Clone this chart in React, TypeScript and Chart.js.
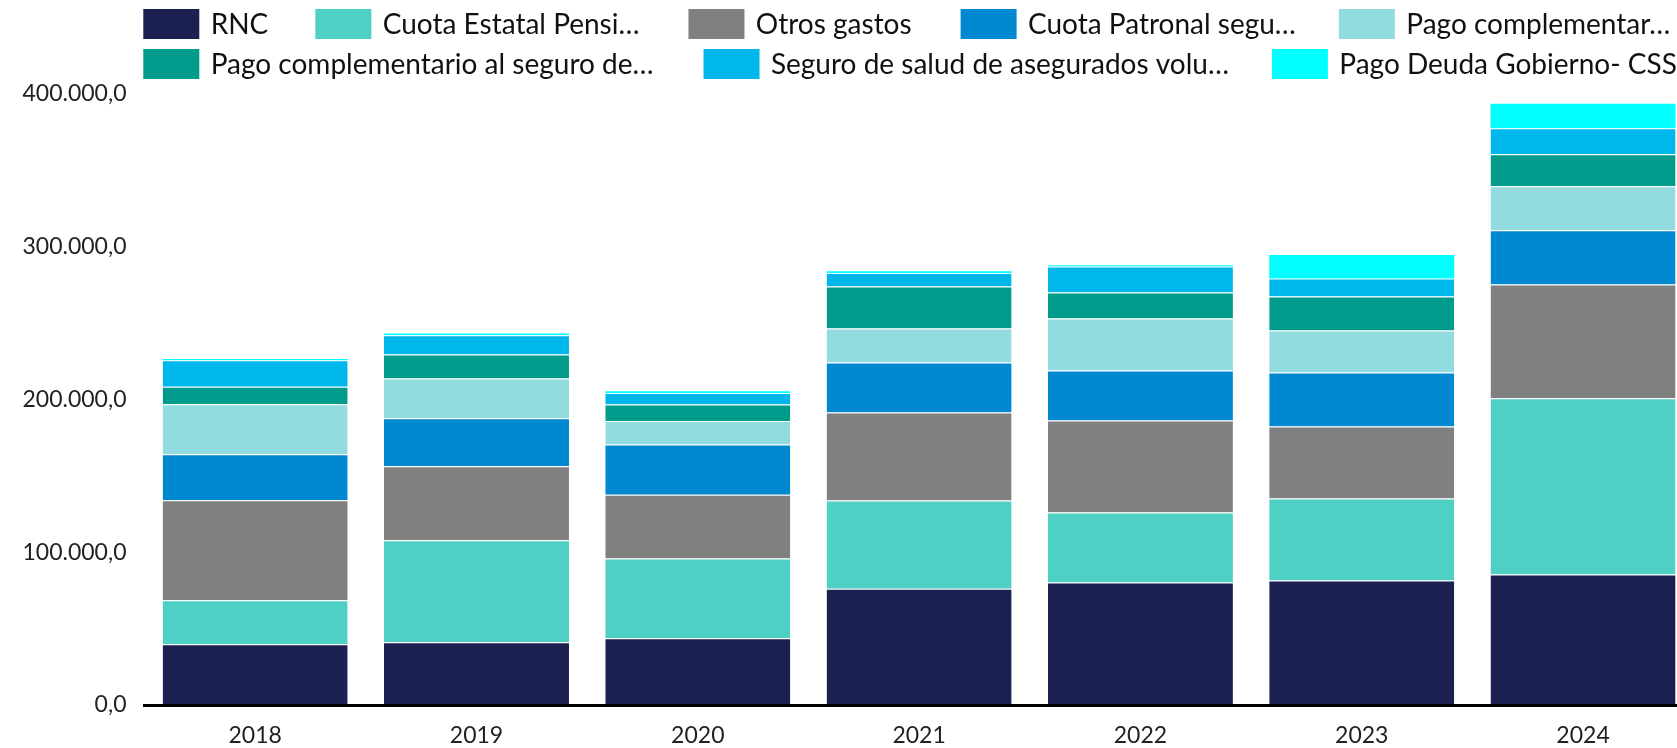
import React, { useEffect, useRef } from "react";
import { Chart, registerables } from "chart.js";

Chart.register(...registerables);

const years = ["2018", "2019", "2020", "2021", "2022", "2023", "2024"];

const seriesNames = [
  "RNC",
  "Cuota Estatal Pensi…",
  "Otros gastos",
  "Cuota Patronal segu…",
  "Pago complementar…",
  "Pago complementario al seguro de…",
  "Seguro de salud de asegurados volu…",
  "Pago Deuda Gobierno- CSS",
];

const rnc = [39700, 41000, 43600, 76000, 80200, 81500, 85300];
const cuotaEstatal = [28800, 66700, 52300, 57800, 45800, 53600, 115300];
const otrosGastos = [65400, 48400, 41600, 57500, 60100, 47100, 74400];
const cuotaPatronal = [30100, 31400, 32900, 32700, 32700, 35300, 35600];
const pagoComplementar = [32700, 26100, 15400, 22200, 34000, 27500, 28700];
const pagoComplSeguro = [11500, 15700, 10700, 27500, 17000, 22200, 21000];
const seguroSalud = [17300, 12600, 7600, 8900, 17000, 11800, 16900];
const pagoDeuda = [900, 1100, 1100, 1100, 900, 15400, 16100];

const seriesValues = [
  rnc,
  cuotaEstatal,
  otrosGastos,
  cuotaPatronal,
  pagoComplementar,
  pagoComplSeguro,
  seguroSalud,
  pagoDeuda,
];

const seriesColors = [
  "#1B2050",
  "#4ED0C4",
  "#808080",
  "#0088D1",
  "#92DBDF",
  "#009B8A",
  "#00B7EB",
  "#00FFFF",
];

const fmt = new Intl.NumberFormat("de-DE", {
  minimumFractionDigits: 1,
  maximumFractionDigits: 1,
});

const customLegend = {
  id: "customLegend",
  afterDraw(chart: any) {
    const o = chart.options.plugins.customLegend;
    if (!o) return;
    const ctx = chart.ctx;
    ctx.save();
    ctx.font = `${o.fontSize}px Lato`;
    ctx.textBaseline = "middle";
    ctx.textAlign = "left";
    let idx = 0;
    o.rows.forEach((count: number, r: number) => {
      let x = chart.chartArea.left + o.offsetX;
      const cy = o.rowY[r];
      for (let k = 0; k < count; k++, idx++) {
        const ds = chart.data.datasets[idx];
        ctx.fillStyle = ds.backgroundColor;
        ctx.fillRect(x, cy - o.boxH / 2, o.boxW, o.boxH);
        ctx.fillStyle = o.color;
        const tx = x + o.textOffset;
        ctx.fillText(ds.label, tx, cy + 1);
        x = tx + ctx.measureText(ds.label).width + o.gaps[idx];
      }
    });
    ctx.restore();
  },
};

export default function App() {
  const canvasRef = useRef<HTMLCanvasElement | null>(null);

  useEffect(() => {
    if (!canvasRef.current) return;
    Chart.defaults.font.family = "Lato";
    const chart = new Chart(canvasRef.current, {
      type: "bar",
      data: {
        labels: years,
        datasets: seriesNames.map((name, i) => ({
          label: name,
          data: seriesValues[i],
          backgroundColor: seriesColors[i],
          borderColor: "#FFFFFF",
          borderWidth: i === seriesNames.length - 1 ? 0 : { top: 1, left: 0, right: 0, bottom: 0 },
          borderSkipped: false,
          categoryPercentage: 1,
          barPercentage: 0.836,
        })),
      },
      options: {
        animation: false,
        responsive: false,
        maintainAspectRatio: false,
        layout: { padding: { left: 18.5, right: 26.3, top: 93.5, bottom: 0 } },
        plugins: {
          legend: { display: false },
          tooltip: { enabled: false },
          customLegend: {
            fontSize: 28,
            color: "#111111",
            rows: [5, 3],
            rowY: [24, 64],
            boxW: 56,
            boxH: 30,
            offsetX: -1.2,
            textOffset: 67.4,
            gaps: [47, 49, 49, 43, 0, 50, 43, 0],
          },
        } as any,
        scales: {
          x: {
            stacked: true,
            offset: true,
            grid: { display: false, drawTicks: false },
            border: { display: true, color: "#000000", width: 3, z: 1 } as any,
            afterFit: (s: any) => {
              s.height = 43;
            },
            ticks: { color: "#222222", font: { size: 23, family: "Lato" }, padding: 16.5 },
          },
          y: {
            stacked: true,
            min: 0,
            max: 400000,
            grid: { display: false, drawTicks: false },
            border: { display: false },
            afterFit: (s: any) => {
              s.width = 126;
            },
            ticks: {
              stepSize: 100000,
              color: "#222222",
              font: { size: 23, family: "Lato" },
              padding: 18,
              callback: (v: any) => fmt.format(Number(v)),
            },
          },
        },
      },
      plugins: [customLegend],
    });
    return () => chart.destroy();
  }, []);

  return (
    <div
      style={{
        position: "fixed",
        left: 0,
        top: 0,
        width: "100vw",
        height: "100vh",
        overflow: "hidden",
        background: "#FFFFFF",
      }}
    >
      <canvas ref={canvasRef} width={1720} height={748} style={{ display: "block", width: 1720, height: 748 }} />
    </div>
  );
}
